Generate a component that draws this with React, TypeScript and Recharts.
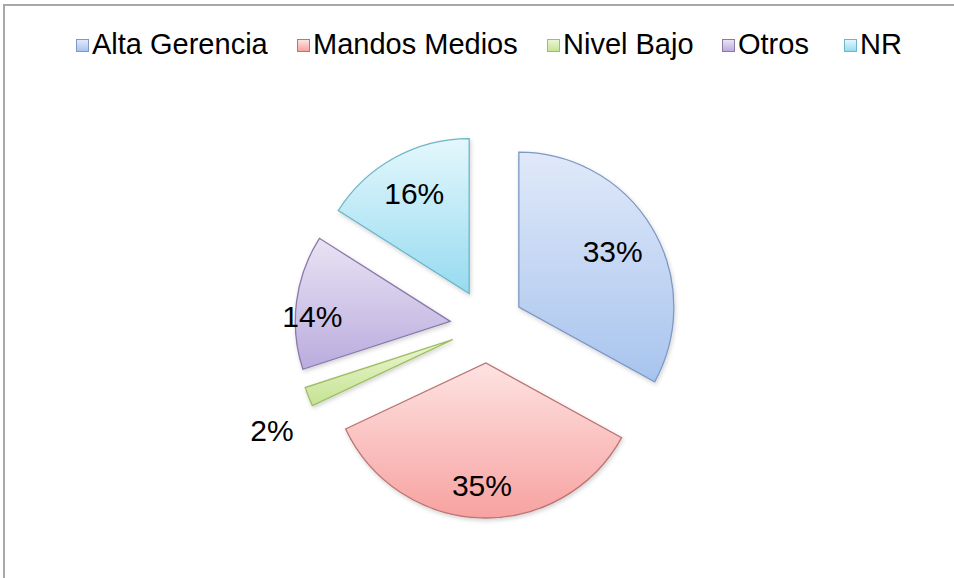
import React from 'react';
import { PieChart, Pie, Cell, Legend, Sector } from 'recharts';

const categories = ['Alta Gerencia', 'Mandos Medios', 'Nivel Bajo', 'Otros', 'NR'];
const values = [33, 35, 2, 14, 16];

const data = categories.map((name, i) => ({ name, value: values[i] }));

// styles
const gradTop = ['#e0e9f9', '#fde3e2', '#ebf6d2', '#e9e3f3', '#e4f7fc'];
const gradBottom = ['#a8c4ee', '#f7a2a0', '#c6e394', '#baacde', '#96dbf0'];
const strokes = ['#7f98c4', '#bb7472', '#9fbf64', '#8a78ab', '#6db6ca'];
const labelDist = [109, 123, 202, 138, 114];
const labelShift = [0, 0, 5, 5, 0];
const legendX = [76, 297, 547, 722, 844];

const CX = 487;
const CY = 326;
const R = 155;
const EXPLODE = 37;
const RAD = Math.PI / 180;
const FONT = '"Liberation Sans", Arial, sans-serif';

function renderSlice(props: any) {
  const { cx, cy, outerRadius, startAngle, endAngle, midAngle, percent, index } = props;
  const ux = Math.cos(-midAngle * RAD);
  const uy = Math.sin(-midAngle * RAD);
  const sx = cx + ux * EXPLODE;
  const sy = cy + uy * EXPLODE;
  const la = midAngle + labelShift[index];
  const lx = sx + Math.cos(-la * RAD) * labelDist[index];
  const ly = sy + Math.sin(-la * RAD) * labelDist[index];
  return (
    <g key={`slice-${index}`}>
      <Sector
        cx={sx}
        cy={sy}
        innerRadius={0}
        outerRadius={outerRadius}
        startAngle={startAngle}
        endAngle={endAngle}
        fill={`url(#grad${index})`}
        stroke={strokes[index]}
        strokeWidth={1.3}
        filter="url(#softShadow)"
      />
      <text
        x={lx}
        y={ly}
        textAnchor="middle"
        dominantBaseline="central"
        fontFamily={FONT}
        fontSize={30}
        fill="#000"
      >
        {`${Math.round(percent * 100)}%`}
      </text>
    </g>
  );
}

function renderLegend(props: any) {
  const payload = [...(props.payload || [])].sort(
    (a: any, b: any) => categories.indexOf(a.value) - categories.indexOf(b.value)
  );
  return (
    <div style={{ position: 'relative', width: 954, height: 0 }}>
      {payload.map((entry: any) => {
        const i = categories.indexOf(entry.value);
        return (
          <div
            key={`leg-${i}`}
            style={{
              position: 'absolute',
              left: legendX[i],
              top: 28,
              height: 32,
              lineHeight: '32px',
              whiteSpace: 'nowrap',
              fontFamily: FONT,
              fontSize: 29,
              color: '#000',
            }}
          >
            <span
              style={{
                display: 'inline-block',
                width: 11,
                height: 11,
                marginRight: 3,
                border: `1px solid ${strokes[i]}`,
                background: `linear-gradient(${gradTop[i]}, ${gradBottom[i]})`,
                verticalAlign: 'middle',
                position: 'relative',
                top: -1,
              }}
            />
            <span>{entry.value}</span>
          </div>
        );
      })}
    </div>
  );
}

export default function App() {
  return (
    <div
      style={{
        position: 'absolute',
        left: 0,
        top: 0,
        width: 954,
        height: 578,
        overflow: 'hidden',
        background: '#fff',
      }}
    >
      <div
        style={{
          position: 'absolute',
          left: 3,
          top: 4,
          width: 980,
          height: 600,
          borderTop: '2px solid #a8a8a8',
          borderLeft: '2px solid #a8a8a8',
          boxSizing: 'border-box',
        }}
      />
      <div style={{ position: 'absolute', left: 0, top: 0 }}>
        <PieChart width={954} height={578} margin={{ top: 0, right: 0, bottom: 0, left: 0 }}>
          <defs>
            {categories.map((c, i) => (
              <linearGradient key={c} id={`grad${i}`} x1="0" y1="0" x2="0" y2="1">
                <stop offset="0%" stopColor={gradTop[i]} />
                <stop offset="100%" stopColor={gradBottom[i]} />
              </linearGradient>
            ))}
            <filter id="softShadow" x="-20%" y="-20%" width="140%" height="140%">
              <feDropShadow dx="1" dy="2" stdDeviation="2" floodColor="#000" floodOpacity="0.18" />
            </filter>
          </defs>
          <Legend
            verticalAlign="top"
            content={renderLegend}
            wrapperStyle={{ top: 0, left: 0, width: 954, height: 0 }}
          />
          <Pie
            data={data}
            dataKey="value"
            nameKey="name"
            cx={CX}
            cy={CY}
            innerRadius={0}
            outerRadius={R}
            startAngle={90}
            endAngle={-270}
            stroke="none"
            fill="transparent"
            label={renderSlice}
            labelLine={false}
            isAnimationActive={false}
          >
            {data.map((d) => (
              <Cell key={d.name} fill="transparent" stroke="none" />
            ))}
          </Pie>
        </PieChart>
      </div>
    </div>
  );
}
